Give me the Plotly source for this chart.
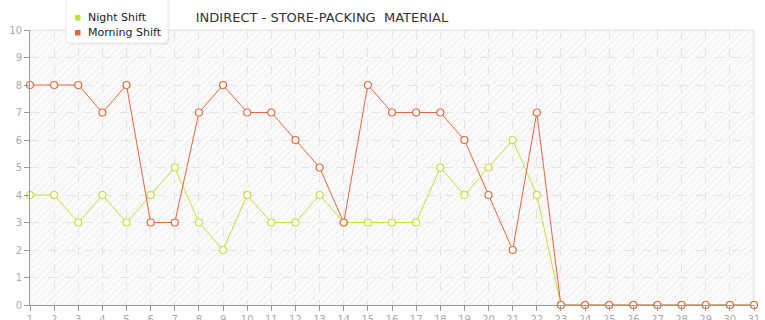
import plotly.graph_objects as go

days = list(range(1, 32))
night_shift = [4, 4, 3, 4, 3, 4, 5, 3, 2, 4, 3, 3, 4, 3, 3, 3, 3, 5, 4, 5, 6, 4,
               0, 0, 0, 0, 0, 0, 0, 0, 0]
morning_shift = [8, 8, 8, 7, 8, 3, 3, 7, 8, 7, 7, 6, 5, 3, 8, 7, 7, 7, 6, 4, 2, 7,
                 0, 0, 0, 0, 0, 0, 0, 0, 0]
series_names = ["Night Shift", "Morning Shift"]
title_text = "INDIRECT - STORE-PACKING  MATERIAL"

NIGHT = "#c3df3a"
MORNING = "#e0683a"
colors = [NIGHT, MORNING]

W, H = 765, 320
L, R, T, B = 30, 11, 30, 15

fig = go.Figure()

# hatched background
fig.add_trace(go.Bar(x=[16], y=[10], width=[30], base=0,
                     marker=dict(color="rgba(0,0,0,0)", line_width=0,
                                 pattern=dict(shape="/", fgcolor="#ededed", bgcolor="rgba(0,0,0,0)",
                                              fillmode="replace", size=5, solidity=0.2)),
                     showlegend=False, hoverinfo="skip"))

for name, vals, col in zip(series_names, [night_shift, morning_shift], colors):
    fig.add_trace(go.Scatter(x=days, y=vals, mode="lines+markers", name=name,
                             line=dict(color=col, width=1),
                             marker=dict(symbol="circle", size=7, color="white",
                                         line=dict(color=col, width=1.2)),
                             cliponaxis=False, showlegend=False))

pw, ph = W - L - R, H - T - B
def px(x):
    return (x - L) / pw
def py(y):
    return (H - B - y) / ph

def rounded_px(x0, y0, x1, y1, r):
    return (f"M {px(x0+r)},{py(y0)} L {px(x1-r)},{py(y0)} Q {px(x1)},{py(y0)} {px(x1)},{py(y0+r)} "
            f"L {px(x1)},{py(y1-r)} Q {px(x1)},{py(y1)} {px(x1-r)},{py(y1)} L {px(x0+r)},{py(y1)} "
            f"Q {px(x0)},{py(y1)} {px(x0)},{py(y1-r)} L {px(x0)},{py(y0+r)} Q {px(x0)},{py(y0)} {px(x0+r)},{py(y0)} Z")

lx0, lx1, ly0, ly1 = 66, 168, -6, 43
shapes = []
for off, c in [(2, "rgba(0,0,0,0.035)"), (1, "rgba(0,0,0,0.05)")]:
    shapes.append(dict(type="path", xref="paper", yref="paper", layer="above",
                       path=rounded_px(lx0 + off, ly0, lx1 + off, ly1 + off, 5),
                       fillcolor=c, line=dict(width=0)))
shapes.append(dict(type="path", xref="paper", yref="paper", layer="above",
                   path=rounded_px(lx0, ly0, lx1, ly1, 5),
                   fillcolor="white", line=dict(color="#eeeeee", width=1)))

annotations = []
for i, (name, col) in enumerate(zip(series_names, colors)):
    cy = 17.5 + 15 * i
    shapes.append(dict(type="rect", xref="paper", yref="paper", layer="above",
                       x0=px(75), x1=px(80.5), y0=py(cy - 2.5), y1=py(cy + 3),
                       fillcolor=col, line=dict(width=0)))
    annotations.append(dict(text=name, xref="paper", yref="paper", x=px(86), y=py(cy),
                            xanchor="left", yanchor="middle", showarrow=False,
                            font=dict(family="DejaVu Sans", size=11, color="#222")))

# light border on top/right
shapes.append(dict(type="line", xref="paper", yref="paper", x0=0, x1=1, y0=1, y1=1,
                   line=dict(color="#e0e0e0", width=1), layer="below"))
shapes.append(dict(type="line", xref="paper", yref="paper", x0=1, x1=1, y0=0, y1=1,
                   line=dict(color="#e0e0e0", width=1), layer="below"))

fig.update_layout(
    width=W, height=H,
    margin=dict(l=L, r=R, t=T, b=B, autoexpand=False),
    paper_bgcolor="white", plot_bgcolor="#fbfbfb",
    font=dict(family="DejaVu Sans", size=10, color="#999"),
    title=dict(text=title_text, xref="container", x=322 / W, xanchor="center",
               yref="container", y=(H - 17) / H, yanchor="middle",
               font=dict(family="DejaVu Sans", size=13, color="#333")),
    showlegend=False,
    bargap=0,
    shapes=shapes,
    annotations=annotations,
)
fig.update_xaxes(range=[1, 31], tickmode="array", tickvals=days, ticks="outside", ticklen=5,
                 tickcolor="#999", showline=True, linecolor="#999", linewidth=1,
                 showgrid=True, gridcolor="#e3e3e3", griddash="dash", gridwidth=1, zeroline=False,
                 tickfont=dict(size=10, color="#aaa"), automargin=False)
fig.update_yaxes(range=[0, 10], dtick=1, ticks="outside", ticklen=5, tickcolor="#999",
                 showline=True, linecolor="#999", linewidth=1,
                 showgrid=True, gridcolor="#e3e3e3", griddash="dash", gridwidth=1, zeroline=False,
                 tickfont=dict(size=10, color="#aaa"), automargin=False)

fig.write_html("out.html")
